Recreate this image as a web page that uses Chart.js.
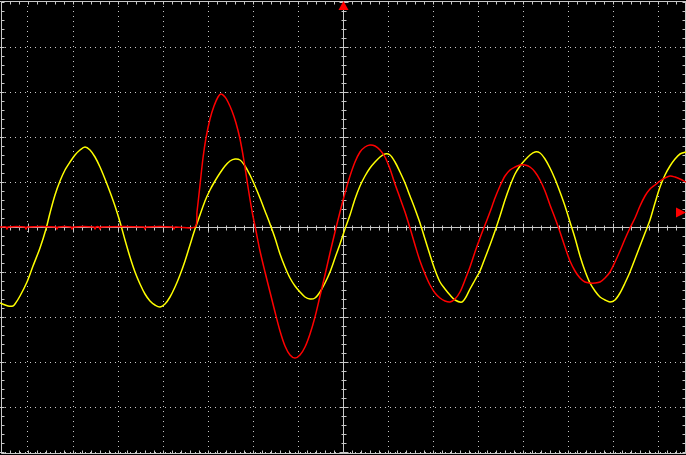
<!DOCTYPE html>
<html>
<head>
<meta charset="utf-8">
<script src="https://cdn.jsdelivr.net/npm/chart.js@4.4.1/dist/chart.umd.min.js"></script>
<style>
  html, body { margin: 0; padding: 0; background: #000; }
  #wrap { width: 686px; height: 455px; }
</style>
</head>
<body>
<div id="wrap"><canvas id="scope" width="686" height="455"></canvas></div>
<script>
// screen units: ADC counts, 45 counts per division, 5 minor ticks per division
const COUNTS_PER_DIV = 45;
const MINOR = 9;
const GRID = '#c8c8c8';

const timeMin = -343, timeMax = 343;
const voltMin = -226, voltMax = 226;
const xDivs = [-7, -6, -5, -4, -3, -2, -1, 0, 1, 2, 3, 4, 5, 6, 7];
const yDivs = [-5, -4, -3, -2, -1, 0, 1, 2, 3, 4, 5];

const triggerTime = 0;
const triggerLevel = 15;

// CH1 (yellow)
const ch1Time = [-343, -335, -330, -328, -323, -316, -310, -303, -297, -293, -288, -283, -278, -273, -268, -263, -258, -253, -248, -243,
  -238, -233, -228, -223, -218, -213, -208, -203, -198, -193, -188, -183, -178, -173, -168, -163, -158, -153, -148, -143,
  -138, -133, -128, -123, -118, -113, -108, -103, -98, -93, -88, -83, -78, -73, -68, -63, -58, -53, -48, -43,
  -38, -33, -28, -23, -18, -13, -8, -3, 2, 7, 12, 17, 22, 27, 32, 37, 42, 47, 52, 57,
  62, 67, 72, 77, 82, 87, 92, 97, 102, 107, 112, 119, 123, 127, 132, 137, 142, 147, 152, 157,
  162, 167, 172, 177, 182, 187, 192, 197, 202, 207, 212, 217, 222, 227, 232, 237, 242, 247, 252, 257,
  262, 267, 272, 277, 282, 287, 292, 297, 302, 307, 312, 317, 322, 327, 332, 337, 343];
const ch1Volt = [-76, -79, -79, -77, -69, -55, -39, -21, -2, 14, 32, 46, 57, 65, 72, 77, 80, 77, 70, 60,
  48, 35, 21, 5, -13, -30, -45, -57, -67, -74, -78, -80, -77, -70, -60, -48, -34, -18, -2, 12,
  26, 37, 46, 54, 61, 66, 68, 67, 61, 52, 41, 29, 16, 3, -11, -27, -40, -51, -59, -65,
  -70, -72, -71, -65, -56, -45, -31, -17, -2, 12, 28, 41, 51, 59, 65, 70, 73, 72, 65, 55,
  44, 31, 18, 4, -12, -28, -43, -55, -62, -68, -73, -75, -70, -62, -53, -44, -31, -18, -4, 11,
  27, 41, 53, 61, 67, 72, 75, 74, 68, 59, 48, 35, 21, 5, -11, -29, -44, -56, -64, -70,
  -73, -75, -73, -66, -56, -45, -32, -19, -6, 7, 24, 40, 52, 61, 68, 73, 75];

// CH2 (red)
const ch2Time = [-343, -337, -336, -335, -318, -317, -316, -287, -286, -285, -272, -271, -270, -249, -248, -247, -244, -243, -242,
  -199, -198, -197, -170, -169, -168, -148, -146, -143, -140, -137, -133, -129, -125, -122, -118, -115, -111, -107, -103,
  -99, -95, -91, -87, -83, -78, -73, -68, -63, -58, -53, -48, -43, -38, -33, -28, -23, -18, -13, -8,
  -3, 2, 7, 12, 17, 22, 27, 32, 37, 42, 47, 52, 57, 62, 67, 72, 77, 82, 87, 92,
  97, 102, 107, 112, 117, 122, 127, 132, 137, 142, 147, 152, 157, 162, 167, 172, 177, 182, 187, 192,
  197, 202, 207, 212, 217, 222, 227, 232, 237, 242, 247, 252, 257, 262, 267, 272, 277, 282, 287, 292,
  297, 302, 307, 312, 317, 322, 327, 332, 337, 343];
const ch2Volt = [0, 0, -2, 0, 0, -2, 0, 0, -2, 0, 0, -2, 0, 0, -2, 0, 0, -2, 0,
  0, -2, 0, 0, -2, 0, 0, 15, 42, 69, 89, 108, 121, 130, 133, 130, 125, 116, 104, 88,
  66, 40, 16, -4, -24, -45, -65, -85, -104, -119, -128, -131, -128, -120, -107, -90, -69, -48, -26, -5,
  15, 34, 51, 65, 75, 80, 82, 81, 77, 70, 58, 43, 29, 15, -1, -18, -34, -47, -58, -66,
  -71, -74, -75, -72, -65, -53, -40, -25, -11, 2, 15, 29, 41, 51, 57, 60, 62, 62, 60, 55,
  47, 36, 22, 9, -5, -20, -34, -44, -51, -55, -56, -56, -55, -51, -45, -35, -24, -12, -1, 9,
  21, 31, 38, 42, 46, 49, 51, 50, 48, 45];

function toPoints(t, v) {
  return t.map((tv, i) => ({ x: tv, y: v[i] }));
}

// graticule: frame, centre cross and minor ticks
const scopeGrid = {
  id: 'scopeGrid',
  beforeDatasetsDraw(chart) {
    const { ctx, chartArea: a, scales: { x, y } } = chart;
    const cx = Math.round(x.getPixelForValue(0)) + 0.5;
    const cy = Math.round(y.getPixelForValue(0)) + 0.5;
    const left = a.left + 1.5, right = a.right - 0.5, top = a.top + 0.5, bottom = a.bottom + 0.5;
    ctx.save();
    ctx.strokeStyle = GRID;
    ctx.lineWidth = 1;
    ctx.beginPath();
    ctx.rect(left, top, right - left, bottom - top);
    ctx.moveTo(cx, top); ctx.lineTo(cx, bottom);
    ctx.moveTo(left, cy); ctx.lineTo(right, cy);
    for (let k = -40; k <= 40; k++) {
      const v = k * MINOR;
      const big = k % 5 === 0 ? 4 : 2;
      if (v > timeMin && v < timeMax) {
        const px = Math.round(x.getPixelForValue(v)) + 0.5;
        ctx.moveTo(px, top); ctx.lineTo(px, top + 3);
        ctx.moveTo(px, bottom); ctx.lineTo(px, bottom - 3);
        ctx.moveTo(px, cy - big); ctx.lineTo(px, cy + big + 1);
      }
      if (v > voltMin && v < voltMax) {
        const py = Math.round(y.getPixelForValue(v)) + 0.5;
        ctx.moveTo(left, py); ctx.lineTo(left + 3, py);
        ctx.moveTo(right, py); ctx.lineTo(right - 3, py);
        ctx.moveTo(cx - big, py); ctx.lineTo(cx + big + 1, py);
      }
    }
    ctx.stroke();
    ctx.restore();
  },
  afterDatasetsDraw(chart) {
    const { ctx, chartArea: a, scales: { x, y } } = chart;
    const tx = Math.round(x.getPixelForValue(triggerTime)) + 0.5;
    const ty = Math.round(y.getPixelForValue(triggerLevel)) + 0.5;
    ctx.save();
    ctx.fillStyle = '#ff0000';
    // trigger position marker
    ctx.beginPath();
    ctx.moveTo(tx, a.top);
    ctx.lineTo(tx + 5, a.top + 9);
    ctx.lineTo(tx - 5, a.top + 9);
    ctx.closePath();
    ctx.fill();
    // trigger level marker
    ctx.beginPath();
    ctx.moveTo(a.right, ty);
    ctx.lineTo(a.right - 10, ty - 5);
    ctx.lineTo(a.right - 10, ty + 5);
    ctx.closePath();
    ctx.fill();
    ctx.restore();
  }
};

const divTicks = divs => scale => {
  scale.ticks = divs.map(d => ({ value: d * COUNTS_PER_DIV }));
};

new Chart(document.getElementById('scope'), {
  type: 'scatter',
  data: {
    datasets: [
      {
        label: 'CH2',
        data: toPoints(ch2Time, ch2Volt),
        showLine: true,
        borderColor: '#ff0000',
        borderWidth: 1.5,
        pointRadius: 0,
        tension: 0.3
      },
      {
        label: 'CH1',
        data: toPoints(ch1Time, ch1Volt),
        showLine: true,
        borderColor: '#ffff00',
        borderWidth: 1.5,
        pointRadius: 0,
        tension: 0.3
      }
    ]
  },
  options: {
    responsive: false,
    animation: false,
    layout: { padding: { left: 0, right: 0, top: 1, bottom: 2 } },
    plugins: { legend: { display: false }, tooltip: { enabled: false } },
    scales: {
      x: {
        type: 'linear',
        min: timeMin,
        max: timeMax,
        afterBuildTicks: divTicks(xDivs),
        ticks: { display: false },
        grid: {
          color: c => (c.tick && c.tick.value === 0) ? 'rgba(0,0,0,0)' : GRID,
          drawTicks: false,
          lineWidth: 1
        },
        border: { display: false, dash: [1, 4] }
      },
      y: {
        type: 'linear',
        min: voltMin,
        max: voltMax,
        afterBuildTicks: divTicks(yDivs),
        ticks: { display: false },
        grid: {
          color: c => (c.tick && c.tick.value === 0) ? 'rgba(0,0,0,0)' : GRID,
          drawTicks: false,
          lineWidth: 1
        },
        border: { display: false, dash: [1, 4] }
      }
    }
  },
  plugins: [scopeGrid]
});
</script>
</body>
</html>
